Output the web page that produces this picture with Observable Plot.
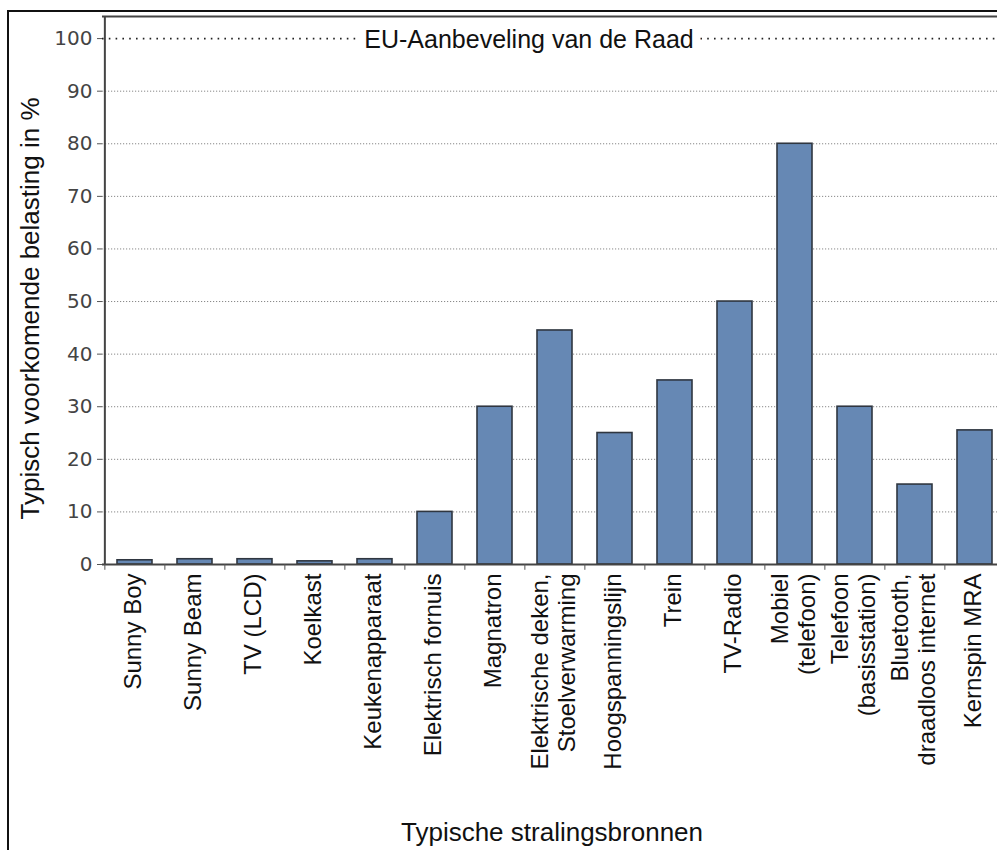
<!DOCTYPE html>
<html>
<head>
<meta charset="utf-8">
<script src="https://cdn.jsdelivr.net/npm/d3@7"></script>
<script src="https://cdn.jsdelivr.net/npm/@observablehq/plot@0.6"></script>
<style>
  html, body { margin: 0; padding: 0; background: #fff; overflow: hidden; }
  #wrap { position: relative; width: 997px; height: 850px; }
  #frame { position: absolute; left: 7px; top: 10px; width: 1100px; height: 900px;
           border-left: 2px solid #111; border-top: 2px solid #111; pointer-events: none; }
  svg { overflow: visible; }
</style>
</head>
<body>
<div id="wrap"><div id="frame"></div><div id="chart"></div></div>
<script>
const categories = [
  "Sunny Boy", "Sunny Beam", "TV (LCD)", "Koelkast", "Keukenapparaat",
  "Elektrisch fornuis", "Magnatron", "Elektrische deken,\nStoelverwarming",
  "Hoogspanningslijn", "Trein", "TV-Radio", "Mobiel\n(telefoon)",
  "Telefoon\n(basisstation)", "Bluetooth,\ndraadloos internet", "Kernspin MRA"
];
const values = [0.8, 1.0, 1.0, 0.6, 1.0, 10, 30, 44.5, 25, 35, 50, 80, 30, 15.2, 25.5];
const yTicks = [0, 10, 20, 30, 40, 50, 60, 70, 80, 90, 100];
const gridTicks = [10, 20, 30, 40, 50, 60, 70, 80, 90];
const refValue = 100;
const refLabel = "EU-Aanbeveling van de Raad";
const yTitle = "Typisch voorkomende belasting in %";
const xTitle = "Typische stralingsbronnen";

const data = categories.map((c, i) => ({cat: c, value: values[i]}));

const x0 = 102, x1 = 1006;
const step = (x1 - x0) / categories.length;
const sans = "Liberation Sans, Arial, sans-serif";

const chart = Plot.plot({
  width: 997,
  height: 850,
  marginLeft: 102,
  marginTop: 16,
  marginBottom: 286,
  marginRight: 0,
  style: {background: "transparent", overflow: "visible"},
  x: {type: "band", domain: categories, range: [x0, x1], paddingInner: 0.42, paddingOuter: 0.21, axis: null},
  y: {domain: [0, 104.2], axis: null},
  marks: [
    // gridlines
    Plot.ruleY(gridTicks, {stroke: "#888", strokeWidth: 1, strokeDasharray: "1.2,1.8"}),
    // reference line at 100
    Plot.ruleY([refValue], {stroke: "#222", strokeWidth: 1.6, strokeDasharray: "1.6,5.2"}),
    Plot.text([refLabel], {x: () => categories[7], y: refValue, dx: -26, dy: 1, text: d => d,
      fontSize: 25, fontFamily: sans, fill: "#111",
      stroke: "white", strokeWidth: 16, paintOrder: "stroke"}),
    // top frame line
    Plot.ruleY([104.2], {stroke: "#444", strokeWidth: 2}),
    // bars
    Plot.barY(data, {x: "cat", y: "value", fill: "#6688b4", stroke: "#2f3640", strokeWidth: 1.6}),
    // y axis line
    Plot.ruleX([0], {x: () => categories[0], dx: -step / 2, y1: 0, y2: 104.2, stroke: "#444", strokeWidth: 2}),
    // bottom axis line
    Plot.ruleY([0], {stroke: "#444", strokeWidth: 2}),
    // x ticks between categories
    Plot.ruleX(categories, {x: d => d, dx: -step / 2, y1: 0, y2: -1.1, stroke: "#555", strokeWidth: 1}),
    // y axis ticks and labels
    Plot.axisY(yTicks, {anchor: "left", tickSize: 5, tickPadding: 5, stroke: "#555",
      fontSize: 20, fontFamily: "DejaVu Sans, sans-serif", fill: "#444", label: null}),
    // category labels
    Plot.text(data, {x: "cat", frameAnchor: "bottom", dy: 9, dx: -2, text: "cat", rotate: -90,
      textAnchor: "end", lineAnchor: "middle", lineHeight: 1.1,
      fontSize: 24, fontFamily: sans, fill: "#111"}),
    // axis titles
    Plot.text([yTitle], {frameAnchor: "left", dx: -72, dy: 18, text: d => d, rotate: -90,
      textAnchor: "middle", fontSize: 26, fontFamily: sans, fill: "#111"}),
    Plot.text([xTitle], {x: () => categories[7], frameAnchor: "bottom", dy: 276, dx: -3, text: d => d,
      textAnchor: "middle", fontSize: 26, fontFamily: sans, fill: "#111"})
  ]
});
document.getElementById("chart").appendChild(chart);
</script>
</body>
</html>
